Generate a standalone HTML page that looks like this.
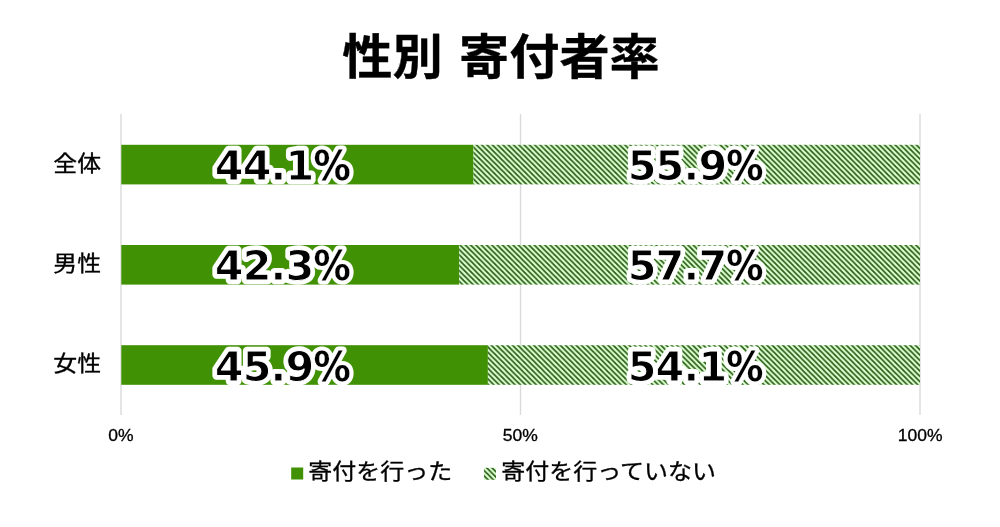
<!DOCTYPE html>
<html lang="ja">
<head>
<meta charset="utf-8">
<title>性別 寄付者率</title>
<style>
html,body{margin:0;padding:0;background:#fff;}
body{width:1000px;height:527px;overflow:hidden;position:relative;}
svg{display:block;position:absolute;left:0;top:0;}
.title{font-family:"Liberation Sans","Noto Sans CJK JP",sans-serif;font-weight:700;font-size:50.2px;fill:#000;stroke:#000;stroke-width:0.4px;word-spacing:2.5px;}
.cat{font-family:"Liberation Sans","Noto Sans CJK JP",sans-serif;font-size:24px;fill:#000;stroke:#000;stroke-width:0.35px;}
.tick{font-family:"Liberation Sans",sans-serif;font-size:16.6px;fill:#000;stroke:#000;stroke-width:0.3px;}
.val{font-family:"DejaVu Sans","Liberation Sans",sans-serif;font-weight:700;font-size:41.3px;letter-spacing:-0.8px;text-anchor:middle;stroke-linejoin:round;stroke-linecap:round;}
.pc{font-family:"DejaVu Sans Condensed","DejaVu Sans",sans-serif;stroke-width:var(--pcw);}
.under{fill:#fff;stroke:#fff;stroke-width:8.4px;--pcw:8px;}
.over{fill:#000;stroke:#fff;stroke-width:1px;--pcw:0.2px;}
</style>
</head>
<body>
<svg width="1000" height="527" viewBox="0 0 1000 527">
  <defs>
    <pattern id="hatch" patternUnits="userSpaceOnUse" width="5.30" height="5.30" x="121.3" y="144.8">
      <rect x="0" y="0" width="5.30" height="5.30" fill="#dcffd0"/>
      <path d="M-1.325,-1.325 L6.625,6.625 M-1.325,3.975 L1.325,6.625 M3.975,-1.325 L6.625,1.325" stroke="#235710" stroke-width="1.62" fill="none"/>
    </pattern>
  </defs>
  <rect x="0" y="0" width="1000" height="527" fill="#ffffff"/>

  <!-- gridlines -->
  <g stroke="#dadada" stroke-width="1.4">
    <line x1="121" y1="114" x2="121" y2="415"/>
    <line x1="520.5" y1="114" x2="520.5" y2="415"/>
    <line x1="920" y1="114" x2="920" y2="415"/>
  </g>

  <!-- bars -->
  <g>
    <rect x="121.3" y="144.8" width="352.2" height="39.6" fill="#409103"/>
    <rect x="473.5" y="144.8" width="446.5" height="39.6" fill="url(#hatch)"/>
    <rect x="121.3" y="245.0" width="337.9" height="39.6" fill="#409103"/>
    <rect x="459.2" y="245.0" width="460.8" height="39.6" fill="url(#hatch)"/>
    <rect x="121.3" y="345.2" width="366.6" height="39.6" fill="#409103"/>
    <rect x="487.9" y="345.2" width="432.1" height="39.6" fill="url(#hatch)"/>
  </g>

  <!-- title -->
  <text class="title" transform="translate(501,74.4) scale(1,0.94)" x="0" y="0" text-anchor="middle">性別 寄付者率</text>

  <!-- category labels -->
  <text class="cat" transform="translate(77.2,170.8) scale(0.995,0.9)" x="0" y="0" text-anchor="middle">全体</text>
  <text class="cat" transform="translate(77.2,271.0) scale(0.995,0.9)" x="0" y="0" text-anchor="middle">男性</text>
  <text class="cat" transform="translate(77.2,371.1) scale(0.995,0.9)" x="0" y="0" text-anchor="middle">女性</text>

  <!-- value labels -->
  <g class="val under">
    <use href="#v0"/>
    <use href="#v1"/>
    <use href="#v2"/>
    <use href="#v3"/>
    <use href="#v4"/>
    <use href="#v5"/>
  </g>
  <g class="val over">
    <text id="v0" x="282.3" y="180.3">44.1<tspan class="pc">%</tspan></text>
    <text id="v1" x="695.2" y="180.3">55.9<tspan class="pc">%</tspan></text>
    <text id="v2" x="282.3" y="279.6">42.3<tspan class="pc">%</tspan></text>
    <text id="v3" x="695.2" y="279.6">57.7<tspan class="pc">%</tspan></text>
    <text id="v4" x="282.3" y="380.8">45.9<tspan class="pc">%</tspan></text>
    <text id="v5" x="695.2" y="380.8">54.1<tspan class="pc">%</tspan></text>
  </g>

  <!-- axis ticks -->
  <g class="tick" text-anchor="middle">
    <text transform="translate(120.8,441.3) scale(1.055,1)" x="0" y="0">0%</text>
    <text transform="translate(520.3,441.3) scale(1.055,1)" x="0" y="0">50%</text>
    <text transform="translate(920.1,441.3) scale(1.055,1)" x="0" y="0">100%</text>
  </g>

  <!-- legend -->
  <rect x="291.2" y="467.5" width="12" height="12" fill="#409103"/>
  <text class="cat" transform="translate(308.3,479.2) scale(1,0.915)" x="0" y="0">寄付を行った</text>
  <rect x="484" y="467.8" width="12" height="12" fill="url(#hatch)"/>
  <text class="cat" transform="translate(501.3,479.2) scale(1,0.915)" x="0" y="0">寄付を行っていない</text>
</svg>
</body>
</html>
